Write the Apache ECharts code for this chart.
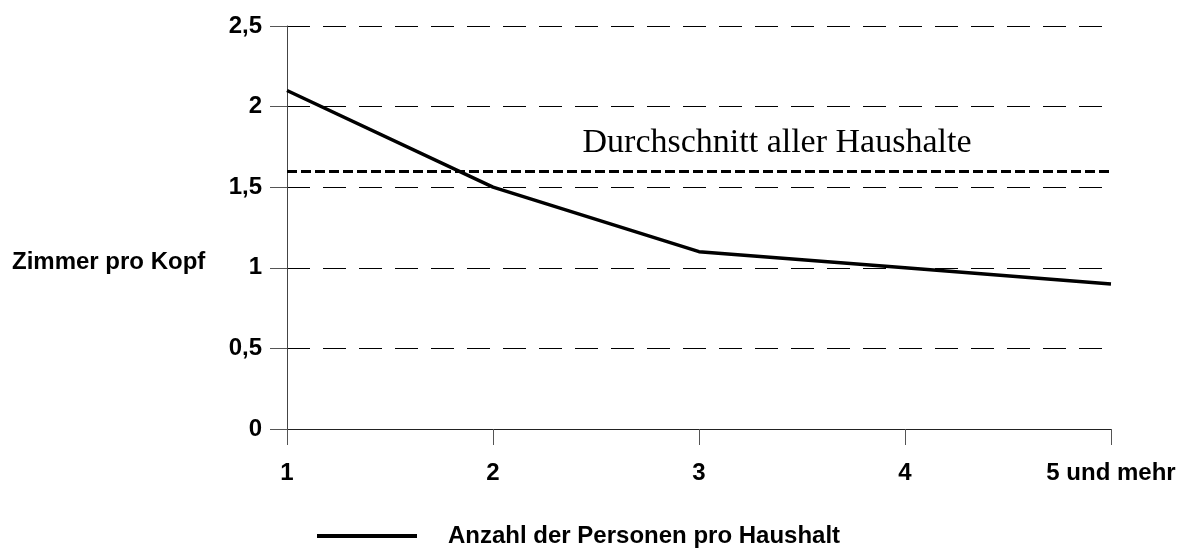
<!DOCTYPE html>
<html>
<head>
<meta charset="utf-8">
<script src="https://cdn.jsdelivr.net/npm/echarts@6/dist/echarts.min.js"></script>
<style>
  html, body { margin: 0; padding: 0; background: #fff; }
  #chart { width: 1187px; height: 549px; }
</style>
</head>
<body>
<div id="chart"></div>
<script>
// Haushaltsgröße -> Zimmer pro Kopf
const categories = ['1', '2', '3', '4', '5 und mehr']
const zimmerProKopf = [2.1, 1.5, 1.1, 1.0, 0.9]
const durchschnitt = 1.6
const seriesName = 'Anzahl der Personen pro Haushalt'
const avgLabel = 'Durchschnitt aller Haushalte'
const yAxisTitle = 'Zimmer pro Kopf'

const sans = "'Liberation Sans', Arial, sans-serif"
const serif = "'Liberation Serif', 'Times New Roman', serif"

const chart = echarts.init(document.getElementById('chart'))
chart.setOption({
  animation: false,
  grid: { left: 287, right: 76, top: 26, bottom: 120 },
  graphic: [{
    type: 'text', left: 12, top: 250,
    style: { text: yAxisTitle, font: 'bold 24px ' + sans, fill: '#000' }
  }],
  legend: {
    data: [seriesName],
    left: 312, top: 519,
    icon: 'rect',
    itemWidth: 100, itemHeight: 4,
    itemStyle: { color: '#000' },
    textStyle: { fontFamily: sans, fontSize: 24, fontWeight: 'bold', color: '#000', padding: [0, 0, 0, 26] }
  },
  xAxis: {
    type: 'category',
    data: categories,
    boundaryGap: false,
    axisLine: { lineStyle: { color: '#222', width: 1 } },
    axisTick: { length: 16, lineStyle: { color: '#555' } },
    axisLabel: { color: '#000', fontFamily: sans, fontSize: 24, fontWeight: 'bold', margin: 32 },
    splitLine: { show: false }
  },
  yAxis: {
    type: 'value',
    position: 'left',
    min: 0, max: 2.5, interval: 0.5,
    axisLine: { show: true, lineStyle: { color: '#444', width: 1 } },
    axisTick: { show: true, length: 17, lineStyle: { color: '#555', width: 1 } },
    axisLabel: {
      color: '#000', fontFamily: sans, fontSize: 24, fontWeight: 'bold', margin: 25,
      formatter: v => String(v).replace('.', ',')
    },
    splitLine: { show: true, lineStyle: { color: '#000', width: 1, type: [23, 13] } }
  },
  series: [{
    name: seriesName,
    type: 'line',
    data: zimmerProKopf,
    symbol: 'none',
    lineStyle: { color: '#000', width: 3.5 },
    itemStyle: { color: '#000' },
    markLine: {
      silent: true,
      symbol: ['none', 'none'],
      data: [{ yAxis: durchschnitt }],
      lineStyle: { color: '#000', width: 3, type: [10, 4] },
      label: {
        show: true,
        formatter: avgLabel,
        position: 'insideMiddleTop',
        offset: [78, 0],
        distance: 11,
        fontFamily: serif, fontSize: 34, color: '#000'
      }
    }
  }]
})
</script>
</body>
</html>
